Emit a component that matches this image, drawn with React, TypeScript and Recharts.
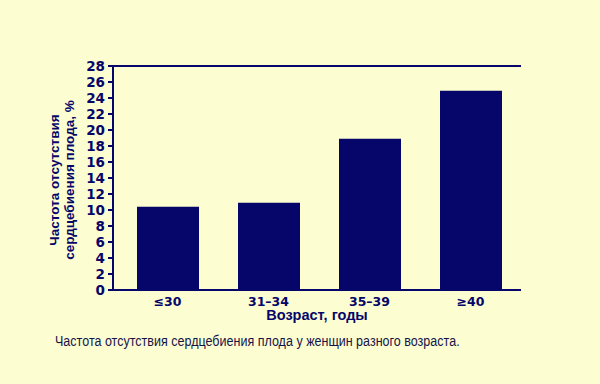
import React from "react";
import { BarChart, Bar, XAxis, YAxis, ReferenceLine } from "recharts";

const categories = ["≤30", "31–34", "35–39", "≥40"];
const values = [10.4, 10.9, 18.9, 24.9];
const yTicks = [0, 2, 4, 6, 8, 10, 12, 14, 16, 18, 20, 22, 24, 26, 28];

const data = categories.map((c, i) => ({ age: c, value: values[i] }));

const NAVY = "#06066a";
const BG = "#fdfdd2";
const FONT = "'Liberation Sans', Arial, sans-serif";
const WIDE = "'DejaVu Sans', sans-serif";

const YLabel = (props: any) => {
  const vb = props.viewBox || {};
  const cy = vb.y + vb.height / 2 + 2;
  return (
    <g>
      <text
        x={54}
        y={cy}
        transform={`rotate(-90 54 ${cy})`}
        textAnchor="middle"
        dominantBaseline="central"
        fill={NAVY}
        fontFamily={FONT}
        fontWeight="bold"
        fontSize={13.5}
      >
        Частота отсутствия
      </text>
      <text
        x={69}
        y={cy}
        transform={`rotate(-90 69 ${cy})`}
        textAnchor="middle"
        dominantBaseline="central"
        fill={NAVY}
        fontFamily={FONT}
        fontWeight="bold"
        fontSize={13.5}
      >
        сердцебиения плода, %
      </text>
    </g>
  );
};

export default function App() {
  return (
    <div
      style={{
        position: "fixed",
        left: 0,
        top: 0,
        width: 600,
        height: 384,
        background: BG,
      }}
    >
      <BarChart
        width={600}
        height={384}
        data={data}
        margin={{ top: 66, right: 79, bottom: 64, left: 53 }}
      >
        <ReferenceLine y={28} stroke={NAVY} strokeWidth={2} ifOverflow="extendDomain" />
        <XAxis
          dataKey="age"
          height={30}
          padding={{ left: 4, right: 0 }}
          axisLine={{ stroke: NAVY, strokeWidth: 2 }}
          tickLine={false}
          tick={{ fill: NAVY, fontFamily: WIDE, fontWeight: "bold", fontSize: 12.5 }}
          tickMargin={1}
          label={{
            value: "Возраст, годы",
            position: "insideBottom",
            offset: 0,
            fill: NAVY,
            fontFamily: FONT,
            fontWeight: "bold",
            fontSize: 14.5,
          }}
        />
        <YAxis
          width={60}
          domain={[0, 28]}
          ticks={yTicks}
          interval={0}
          axisLine={{ stroke: NAVY, strokeWidth: 2 }}
          tickLine={{ stroke: NAVY, strokeWidth: 2 }}
          tickSize={5}
          tickMargin={3}
          tick={{ fill: NAVY, fontFamily: WIDE, fontWeight: "bold", fontSize: 13.5 }}
          label={<YLabel />}
        />
        <Bar dataKey="value" fill={NAVY} barSize={62} isAnimationActive={false} />
      </BarChart>
      <div
        style={{
          position: "absolute",
          left: 55,
          top: 333,
          fontFamily: FONT,
          fontSize: 14,
          color: "#14144a",
          whiteSpace: "nowrap",
          transform: "scaleX(0.895)",
          transformOrigin: "left center",
        }}
      >
        Частота отсутствия сердцебиения плода у женщин разного возраста.
      </div>
    </div>
  );
}
